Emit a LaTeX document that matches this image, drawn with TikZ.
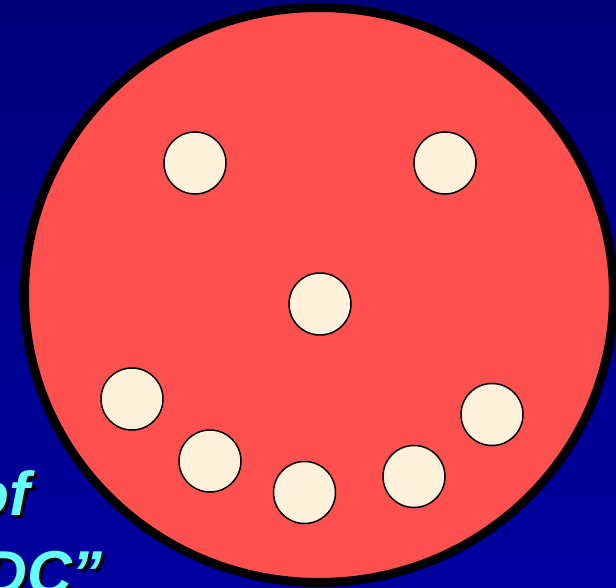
\documentclass[tikz,border=0pt]{standalone}
\usepackage{fontspec}
\setmainfont{Liberation Sans}

\definecolor{bgtop}{HTML}{000078}
\definecolor{bgbot}{HTML}{0000A0}
\definecolor{facered}{HTML}{FF5050}
\definecolor{dotcream}{HTML}{FDF1DA}
\definecolor{textcyan}{HTML}{66FFFF}

\tikzset{
  face/.style={fill=facered,draw=black,line width=9pt},
  dot/.style={circle,fill=dotcream,draw=black,line width=1.5pt,minimum size=62pt,inner sep=0pt},
  bigword/.style={font=\fontsize{62}{70}\selectfont\bfseries\itshape,inner sep=0pt,anchor=base east}
}

\begin{document}
\begin{tikzpicture}[x=1pt,y=-1pt]

% Background
\useasboundingbox (0,0) rectangle (616,588);
\clip (0,0) rectangle (616,588);
\shade[top color=bgtop,bottom color=bgbot] (0,0) rectangle (616,588);

% Face
\draw[face] (319,295) ellipse [x radius=294.5pt,y radius=287.5pt];

% Eyes and nose
\node[dot] (eyeL) at (195,163) {};
\node[dot] (eyeR) at (445,163) {};
\node[dot] (nose) at (320,304) {};

% Mouth
\foreach \name/\px/\py in {m1/132/399,m2/210/461,m3/304.5/492.5,m4/414/476.5,m5/492/414.5}
  \node[dot] (\name) at (\px,\py) {};

% Words, shadow first
\node[bigword,text=black] (wordofshadow) at (33,518) {of};
\node[bigword,text=textcyan] (wordof) at (30,515) {of};
\node[bigword,text=black] (worddcshadow) at (106,597) {DC”};
\node[bigword,text=textcyan] (worddc) at (103,594) {DC”};

\end{tikzpicture}
\end{document}
